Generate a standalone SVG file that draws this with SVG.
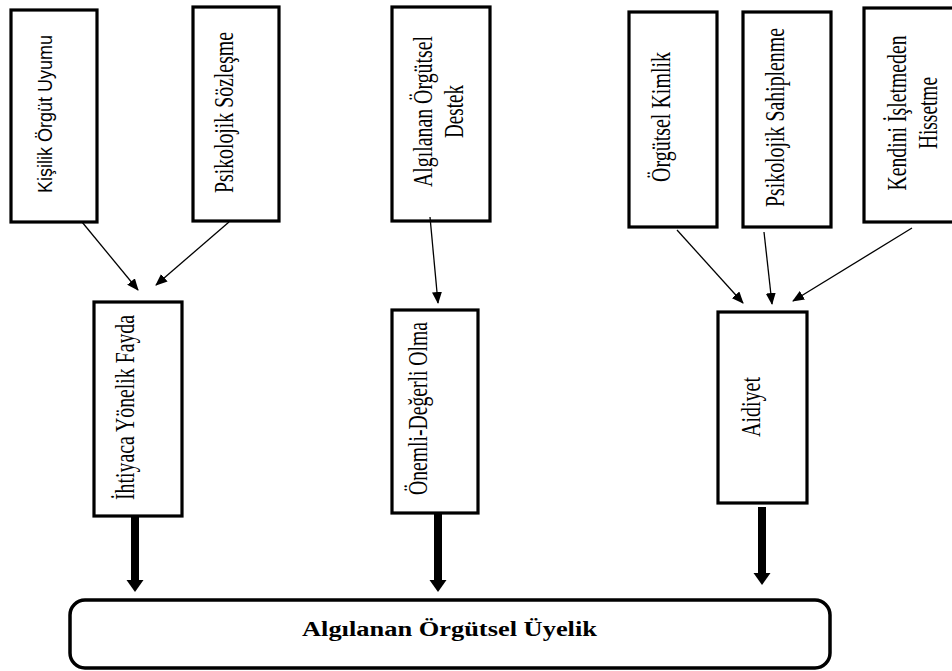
<svg xmlns="http://www.w3.org/2000/svg" width="952" height="671" viewBox="0 0 952 671">
<style>
.box{fill:#fff;stroke:#000;stroke-width:3.2}
.t{font-family:"Liberation Serif","Times New Roman",serif;font-size:20.5px;fill:#000;text-anchor:middle}
.s{font-family:"Liberation Sans",Arial,sans-serif;font-size:16px;fill:#000;text-anchor:middle}
.thin{stroke:#000;stroke-width:1.3;fill:none;marker-end:url(#ah)}
.thick{stroke:#000;stroke-width:8;fill:none}
</style>
<defs>
<marker id="ah" markerWidth="12" markerHeight="10" refX="11" refY="5" orient="auto" markerUnits="userSpaceOnUse">
<path d="M0,0 L12,5 L0,10 Z" fill="#000"/>
</marker>
</defs>
<rect width="952" height="671" fill="#fff"/>
<g id="n1"><rect class="box" x="11" y="10" width="86" height="212"/>
<text class="s" transform="translate(45 114) scale(1.3 1) rotate(-90)" x="0" y="5" textLength="158" lengthAdjust="spacingAndGlyphs">Kişilik Örgüt Uyumu</text></g>
<g id="n2"><rect class="box" x="193" y="7" width="86" height="214"/>
<text class="t" transform="translate(226 112.5) scale(1.3 1) rotate(-90)" x="0" y="5" textLength="161" lengthAdjust="spacingAndGlyphs">Psikolojik Sözleşme</text></g>
<g id="n3"><rect class="box" x="392" y="7" width="98" height="214"/>
<text class="t" transform="translate(441 111.5) scale(1.3 1) rotate(-90)"><tspan x="0" y="-7" textLength="151" lengthAdjust="spacingAndGlyphs">Algılanan Örgütsel</tspan><tspan x="0" y="17" textLength="53" lengthAdjust="spacingAndGlyphs">Destek</tspan></text></g>
<g id="n4"><rect class="box" x="629" y="12" width="88" height="215"/>
<text class="t" transform="translate(663 117) scale(1.3 1) rotate(-90)" x="0" y="5" textLength="130" lengthAdjust="spacingAndGlyphs">Örgütsel Kimlik</text></g>
<g id="n5"><rect class="box" x="743" y="12" width="88" height="215"/>
<text class="t" transform="translate(777 117.5) scale(1.3 1) rotate(-90)" x="0" y="5" textLength="179" lengthAdjust="spacingAndGlyphs">Psikolojik Sahiplenme</text></g>
<g id="n6"><rect class="box" x="864" y="8" width="100" height="214"/>
<text class="t" transform="translate(915 113) scale(1.3 1) rotate(-90)"><tspan x="0" y="-7" textLength="155" lengthAdjust="spacingAndGlyphs">Kendini İşletmeden</tspan><tspan x="0" y="17" textLength="72" lengthAdjust="spacingAndGlyphs">Hissetme</tspan></text></g>
<g id="n7"><rect class="box" x="94" y="302" width="88" height="214"/>
<text class="t" transform="translate(127 407.5) scale(1.3 1) rotate(-90)" x="0" y="5" textLength="185" lengthAdjust="spacingAndGlyphs">İhtiyaca Yönelik Fayda</text></g>
<g id="n8"><rect class="box" x="392" y="310" width="86" height="203"/>
<text class="t" transform="translate(420 408.5) scale(1.3 1) rotate(-90)" x="0" y="5" textLength="173" lengthAdjust="spacingAndGlyphs">Önemli-Değerli Olma</text></g>
<g id="n9"><rect class="box" x="718" y="312" width="89" height="191"/>
<text class="t" transform="translate(753 407) scale(1.3 1) rotate(-90)" x="0" y="5" textLength="60" lengthAdjust="spacingAndGlyphs">Aidiyet</text></g>
<g id="n10"><rect x="70" y="600" width="760" height="68" rx="15" ry="15" fill="#fff" stroke="#000" stroke-width="3.5"/>
<text x="449.5" y="636" font-family="'Liberation Serif','Times New Roman',serif" font-size="20" font-weight="bold" text-anchor="middle" textLength="295" lengthAdjust="spacingAndGlyphs">Algılanan Örgütsel Üyelik</text></g>
<g id="connectors">
<line class="thin" x1="82" y1="222" x2="138" y2="290"/>
<line class="thin" x1="229" y1="222" x2="156" y2="285"/>
<line class="thin" x1="430" y1="217" x2="438" y2="303"/>
<line class="thin" x1="677" y1="230" x2="743" y2="303"/>
<line class="thin" x1="764" y1="232" x2="772" y2="304"/>
<line class="thin" x1="912" y1="228" x2="793" y2="301"/>
<line class="thick" x1="135" y1="516" x2="135" y2="582"/>
<path d="M126.5,580 L143.5,580 L135,592 Z" fill="#000"/>
<line class="thick" x1="438" y1="513" x2="438" y2="582"/>
<path d="M429.5,580 L446.5,580 L438,592 Z" fill="#000"/>
<line class="thick" x1="762" y1="507" x2="762" y2="575"/>
<path d="M753.5,573 L770.5,573 L762,585 Z" fill="#000"/>
</g>
</svg>
